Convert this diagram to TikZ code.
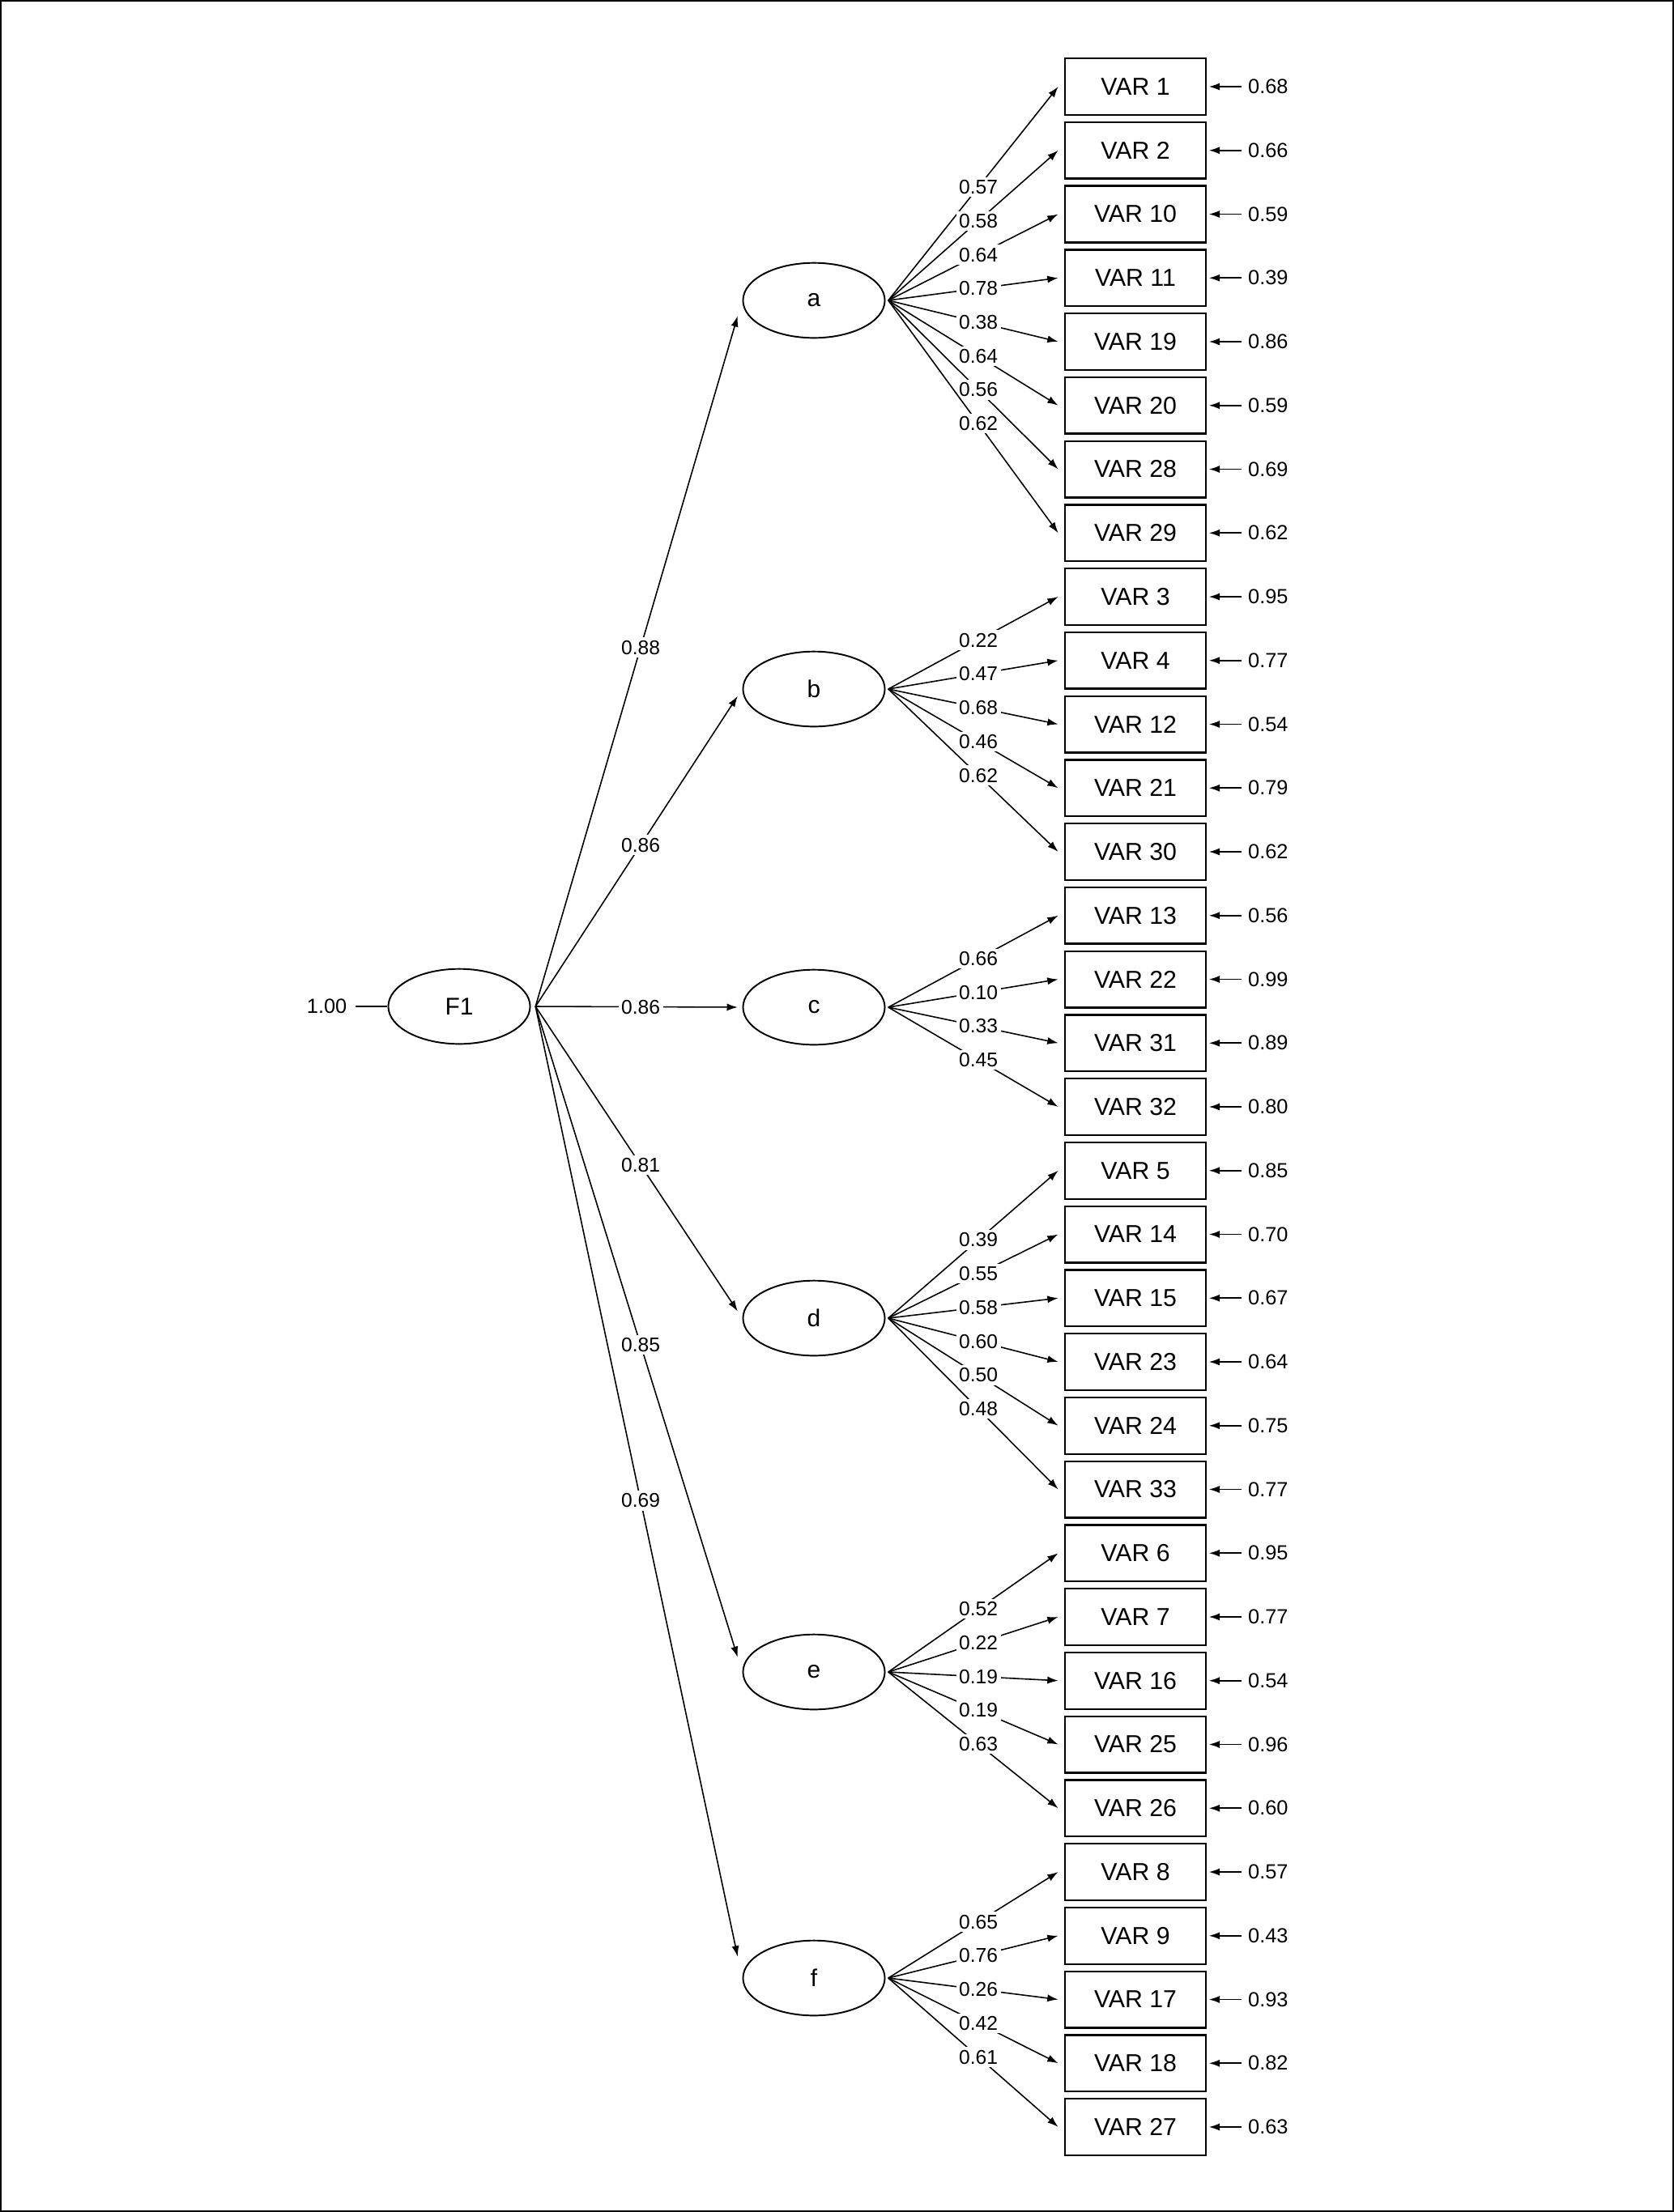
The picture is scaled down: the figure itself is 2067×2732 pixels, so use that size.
\documentclass[tikz,border=0pt]{standalone}
\usepackage{fontspec}
\setmainfont{Liberation Sans}
\usetikzlibrary{arrows.meta,calc,shapes.geometric}

\begin{document}
\begin{tikzpicture}[x=0.01cm, y=-0.01cm, >={Latex[length=3.8pt,width=2.6pt]}, line width=0.45pt,
		latent/.style={ellipse, draw, line width=0.55pt, minimum width=1.75cm, minimum height=0.926cm, inner sep=0pt, font=\fontsize{8.5}{10}\selectfont},
		observed/.style={rectangle, draw, line width=0.65pt, minimum width=1.743cm, minimum height=0.697cm, inner sep=0pt, font=\fontsize{8.6}{10}\selectfont},
		coef/.style={fill=white, inner sep=1pt, font=\fontsize{7}{8}\selectfont},
		errval/.style={inner sep=0pt, font=\fontsize{7.2}{8}\selectfont}]
	% 1. page frame
	\useasboundingbox (0,0) rectangle (2067,2732);
	\draw[line width=0.6pt] (1,1) rectangle (2066,2731);
	
	% 2. second-order factor F1 and its fixed variance
	\node[latent] (F1) at (567,1243) {F1};
	\node[errval, anchor=east] (F1var) at (429,1243) {1.00};
	\draw ([xshift=0.1cm]F1var.east) -- (F1.west);
	
	% 3. first-order factors a--f
	\foreach \n/\y in {a/371, b/851, c/1244, d/1628, e/2065, f/2443}
		\node[latent] (\n) at (1005,\y) {\n};
	
	% F1 -> a..f (all tips stop on the same vertical, left of the ellipses)
	\coordinate (F1o) at ([xshift=0.057cm]F1.east);
	\foreach \n/\v in {a/0.88, b/0.86, c/0.86, d/0.81, e/0.85, f/0.69}
		\draw[->] (F1o) -- ($(F1o)!0.978!(\n.west)$) node[coef, pos=0.52] {\v};
	
	% 4. observed variables: row / number / factor / loading / error
	\foreach \i/\t/\f/\l/\u in {
			0/1/a/0.57/0.68, 1/2/a/0.58/0.66, 2/10/a/0.64/0.59, 3/11/a/0.78/0.39,
			4/19/a/0.38/0.86, 5/20/a/0.64/0.59, 6/28/a/0.56/0.69, 7/29/a/0.62/0.62,
			8/3/b/0.22/0.95, 9/4/b/0.47/0.77, 10/12/b/0.68/0.54, 11/21/b/0.46/0.79, 12/30/b/0.62/0.62,
			13/13/c/0.66/0.56, 14/22/c/0.10/0.99, 15/31/c/0.33/0.89, 16/32/c/0.45/0.80,
			17/5/d/0.39/0.85, 18/14/d/0.55/0.70, 19/15/d/0.58/0.67, 20/23/d/0.60/0.64,
			21/24/d/0.50/0.75, 22/33/d/0.48/0.77,
			23/6/e/0.52/0.95, 24/7/e/0.22/0.77, 25/16/e/0.19/0.54, 26/25/e/0.19/0.96, 27/26/e/0.63/0.60,
			28/8/f/0.65/0.57, 29/9/f/0.76/0.43, 30/17/f/0.26/0.93, 31/18/f/0.42/0.82, 32/27/f/0.61/0.63}
	{
		\node[observed] (v\t) at (1402,{107+78.75*\i}) {VAR \t};
		\node[errval, anchor=west] (u\t) at ([xshift=0.5cm]v\t.east) {\u};
		% error term arrow
		\draw[->] ([xshift=-0.07cm]u\t.west) -- ([xshift=0.024cm]v\t.east);
		% factor loading
		\draw[->] ([xshift=0.033cm]\f.east) -- ([xshift=-0.07cm]v\t.west) node[coef, pos=0.53] {\l};
	}
\end{tikzpicture}
\end{document}
